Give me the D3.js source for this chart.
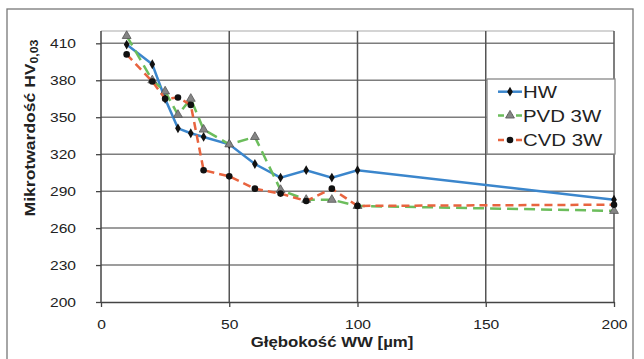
<!DOCTYPE html>
<html><head><meta charset="utf-8">
<script src="https://cdn.jsdelivr.net/npm/d3@7"></script>
<style>body{margin:0;background:#fff}svg{display:block}text{font-family:"Liberation Sans",Arial,sans-serif;fill:#222}</style>
</head><body>
<script>
const depths = [10, 20, 25, 30, 35, 40, 50, 60, 70, 80, 90, 100, 200];
const hwValues  = [409, 393, 365, 341, 337, 334, 328, 312, 301, 307, 301, 307, 283];
const pvdValues = [416, 380, 371, 352, 365, 340, 328, 334, 291, 283, 283, 278, 274];
const cvdValues = [401, 379, 365, 366, 360, 307, 302, 292, 288, 282, 292, 278, 279];
const seriesNames = ["HW", "PVD 3W", "CVD 3W"];
const xTicks = [0, 50, 100, 150, 200];
const yTicks = [200, 230, 260, 290, 320, 350, 380, 410];
const yTitle = "Mikrotwardość HV";
const yTitleSub = "0,03";
const xTitle = "Głębokość WW [µm]";

const W = 644, H = 359;
const L = 101, R = 614, T = 31, B = 302;
const K = 1.2;
const svg = d3.select("body").append("svg").attr("width", W).attr("height", H);
svg.append("rect").attr("width", W).attr("height", H).attr("fill", "#fff");
// outer frame
svg.append("rect").attr("x", 7).attr("y", 9).attr("width", 626).attr("height", 370)
  .attr("fill", "none").attr("stroke", "#777").attr("stroke-width", 1.3);

const x = d3.scaleLinear().domain([0, 200]).range([L, R]);
const y = d3.scaleLinear().domain([200, 420]).range([B, T]);

// plot top border
svg.append("line").attr("x1", L).attr("x2", R).attr("y1", T).attr("y2", T)
  .attr("stroke", "#aaa").attr("stroke-width", 1.2);
// horizontal grid
svg.append("g").selectAll("line").data(yTicks.filter(d => d > 200)).join("line")
  .attr("x1", L).attr("x2", R).attr("y1", d => y(d)).attr("y2", d => y(d))
  .attr("stroke", "#7d7d7d").attr("stroke-width", 1.5);
// vertical grid
svg.append("g").selectAll("line").data(xTicks.filter(d => d > 0)).join("line")
  .attr("x1", d => x(d)).attr("x2", d => x(d)).attr("y1", T).attr("y2", B)
  .attr("stroke", "#555").attr("stroke-width", 1.5);

function stretch(sel, k) {
  sel.each(function () {
    const t = d3.select(this);
    const xv = +t.attr("x") || 0;
    t.attr("x", xv / k).attr("transform", `scale(${k},1)`);
  });
}

const yAxis = svg.append("g").attr("transform", `translate(${L},0)`)
  .call(d3.axisLeft(y).tickValues(yTicks).tickSize(5).tickSizeOuter(0).tickPadding(20));
const xAxis = svg.append("g").attr("transform", `translate(0,${B})`)
  .call(d3.axisBottom(x).tickValues(xTicks).tickSize(5).tickSizeOuter(0).tickPadding(13));
[yAxis, xAxis].forEach(a => {
  a.select(".domain").attr("stroke", "#444").attr("stroke-width", 1.5);
  a.selectAll(".tick line").attr("stroke", "#444").attr("stroke-width", 1.3);
  a.selectAll("text").attr("font-size", 13).attr("fill", "#222")
    .style("font-family", '"Liberation Sans", Arial, sans-serif');
  stretch(a.selectAll("text"), K);
});
yAxis.select(".domain").attr("d", `M0,${B}V${T}`);

// axis titles
svg.append("text").attr("x", 332 / K).attr("y", 347).attr("text-anchor", "middle")
  .attr("transform", `scale(${K},1)`).attr("font-size", 14).attr("font-weight", "bold")
  .text(xTitle);
const yt = svg.append("text").attr("text-anchor", "middle").attr("font-size", 15)
  .attr("font-weight", "bold")
  .attr("transform", `translate(34.5,128) rotate(-90) scale(1.17,1)`);
yt.append("tspan").text(yTitle);
yt.append("tspan").attr("font-size", 10.5).attr("dy", 3).text(yTitleSub);

const series = [
  { name: seriesNames[0], vals: hwValues, color: "#3b86cc", dash: null, marker: "diamond" },
  { name: seriesNames[1], vals: pvdValues, color: "#6cbd5c", dash: "11,6", marker: "triangle" },
  { name: seriesNames[2], vals: cvdValues, color: "#e8643f", dash: "8,5", marker: "circle" }
];
const line = d3.line().x(d => x(d[0])).y(d => y(d[1]));

function drawMarker(g, type, cx, cy) {
  if (type === "diamond") {
    g.append("path").attr("d", d3.symbol(d3.symbolDiamond, 28)())
      .attr("transform", `translate(${cx},${cy})`).attr("fill", "#111");
  } else if (type === "triangle") {
    g.append("path").attr("d", d3.symbol(d3.symbolTriangle, 34)())
      .attr("transform", `translate(${cx},${cy})`).attr("fill", "#858585")
      .attr("stroke", "#555").attr("stroke-width", 0.8);
  } else {
    g.append("circle").attr("cx", cx).attr("cy", cy).attr("r", 3.3).attr("fill", "#111");
  }
}

series.forEach(s => {
  const pts = depths.map((d, i) => [d, s.vals[i]]);
  const g = svg.append("g");
  g.append("path").attr("d", line(pts)).attr("fill", "none").attr("stroke", s.color)
    .attr("stroke-width", 2.5).attr("stroke-dasharray", s.dash);
  pts.forEach(p => drawMarker(g, s.marker, x(p[0]), y(p[1])));
});

// legend
const lg = svg.append("g");
lg.append("rect").attr("x", 487).attr("y", 79).attr("width", 128).attr("height", 75)
  .attr("fill", "#fff").attr("stroke", "#888").attr("stroke-width", 1.3);
const rowY = [91.7, 115.5, 140];
series.forEach((s, i) => {
  const cy = rowY[i];
  lg.append("line").attr("x1", 498).attr("x2", 522).attr("y1", cy).attr("y2", cy)
    .attr("stroke", s.color).attr("stroke-width", 2.5).attr("stroke-dasharray", s.dash ? "6,3" : null);
  drawMarker(lg, s.marker, 510, cy);
  lg.append("text").attr("x", 523 / K).attr("y", cy + 6.2).attr("transform", `scale(${K},1)`)
    .attr("font-size", 17).attr("fill", "#222").text(s.name);
});
</script>
</body></html>
